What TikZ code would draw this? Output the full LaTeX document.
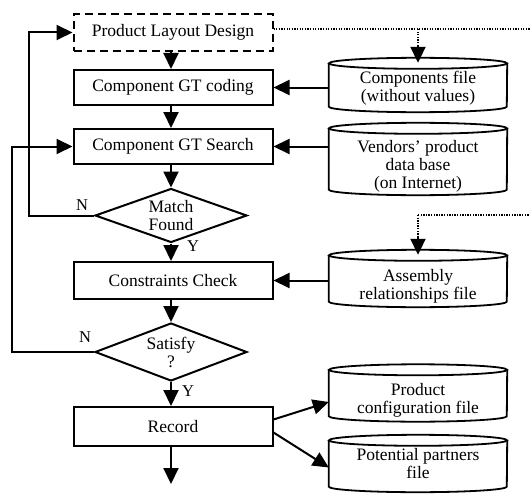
\documentclass[tikz,border=0pt]{standalone}
\usepackage{fontspec}
\setmainfont{Liberation Serif}
\usetikzlibrary{arrows.meta,shapes.geometric}
\newcommand\cylshape[1]{%
 \draw[line width=1.8pt] ([yshift=-5.5pt]#1.north) ellipse[x radius=89pt,y radius=5.5pt];
 \draw[line width=1.8pt] ([yshift=-5.5pt]#1.north west) -- ([yshift=5.5pt]#1.south west)
   arc[start angle=180,end angle=360,x radius=89pt,y radius=5.5pt] -- ([yshift=-5.5pt]#1.north east);
}
\begin{document}
\begin{tikzpicture}[x=1pt,y=-1pt,
  arr/.style={line width=2pt,-{Triangle[length=16pt,width=15pt]}},
  dotarr/.style={line width=1.6pt,dash pattern=on 1.3pt off 1.3pt},
  txt/.style={align=center,inner sep=0pt,font=\fontsize{17.5}{18}\selectfont},
  procbox/.style={draw,line width=2pt,minimum width=199pt,inner sep=0pt,font=\fontsize{17.5}{18}\selectfont},
  decision/.style={draw,diamond,aspect=3,line width=2pt,inner sep=0pt,minimum width=152pt,minimum height=54pt,align=center,font=\fontsize{17.5}{18}\selectfont},
  cylnode/.style={rectangle,minimum width=178pt,inner sep=0pt},
  lab/.style={inner sep=0pt,font=\fontsize{16.5}{18}\selectfont}
]
\useasboundingbox (0,0) rectangle (530,495);

% main flow
\node[procbox,dashed,dash pattern=on 8pt off 5pt,minimum height=37pt] (pld) at (173,32.5) {Product Layout Design};
\node[procbox,minimum height=35pt] (code) at (173,87.5) {Component GT coding};
\node[procbox,minimum height=35pt] (search) at (173,146.5) {Component GT Search};
\node[decision] (match) at (171,215.5) {Match\\Found};
\node[procbox,minimum height=37pt] (cons) at (173,280.5) {Constraints Check};
\node[decision,minimum height=58pt] (sat) at (171,352) {Satisfy\\?};
\node[procbox,minimum height=39pt] (rec) at (173,426.5) {Record};
\coordinate (endc) at (171,484);

% data stores
\node[cylnode,minimum height=54pt] (comp) at (418,85) {};
\node[cylnode,minimum height=72pt] (vend) at (418,159) {};
\node[cylnode,minimum height=57pt] (asm) at (418,278.5) {};
\node[cylnode,minimum height=57pt] (cfg) at (418,393) {};
\node[cylnode,minimum height=57pt] (part) at (418,463.5) {};
\cylshape{comp}
\cylshape{vend}
\cylshape{asm}
\cylshape{cfg}
\cylshape{part}
\node[txt] (compT) at (418,88) {Components file\\(without values)};
\node[txt] (vendT) at (418,166) {Vendors’ product\\data base\\(on Internet)};
\node[txt] (asmT) at (418,286) {Assembly\\relationships file};
\node[txt] (cfgT) at (418,400) {Product\\configuration file};
\node[txt] (partT) at (418,464) {Potential partners\\file};

% vertical flow arrows
\draw[arr] (pld.south -| match) -- (code.north -| match);
\draw[arr] (code.south -| match) -- (search.north -| match);
\draw[arr] (search.south -| match) -- (match.north);
\draw[arr] (match.south) -- (cons.north -| match);
\draw[arr] (cons.south -| match) -- (sat.north);
\draw[arr] (sat.south) -- (rec.north -| match);
\draw[arr] (rec.south -| match) -- (endc);

% data inputs
\draw[arr] (comp.west |- code.east) -- (code.east);
\draw[arr] (vend.west |- search.east) -- (search.east);
\draw[arr] (asm.west |- cons.east) -- (cons.east);

% outputs
\draw[arr] ([yshift=7pt]rec.east) -- ([yshift=-9pt]cfg.west);
\draw[arr] ([yshift=-6pt]rec.east) -- ([yshift=-4pt]part.west);

% dotted links
\coordinate (d1) at (530,29);
\coordinate (d2) at (530,215);
\draw[dotarr] (pld.east |- d1) -- (d1);
\draw[dotarr] (comp.north |- d1) -- ([yshift=12pt]comp.north);
\draw[arr] ([yshift=13pt]comp.north) -- ([yshift=-5pt]comp.north);
\draw[dotarr] (asm.north |- d2) -- (d2);
\draw[dotarr] (asm.north |- d2) -- ([yshift=12pt]asm.north);
\draw[arr] ([yshift=13pt]asm.north) -- ([yshift=-5pt]asm.north);

% feedback loops
\coordinate (l1) at (29,0);
\coordinate (l2) at (12,0);
\draw[arr] (match.west) -- (match.west -| l1) |- (pld.west);
\draw[arr] (sat.west) -- (sat.west -| l2) |- (search.west);

% labels
\node[lab] (n1) at (82,205) {N};
\node[lab] (n2) at (85,337) {N};
\node[lab] (y1) at (193,246) {Y};
\node[lab] (y2) at (188,391) {Y};
\end{tikzpicture}
\end{document}
